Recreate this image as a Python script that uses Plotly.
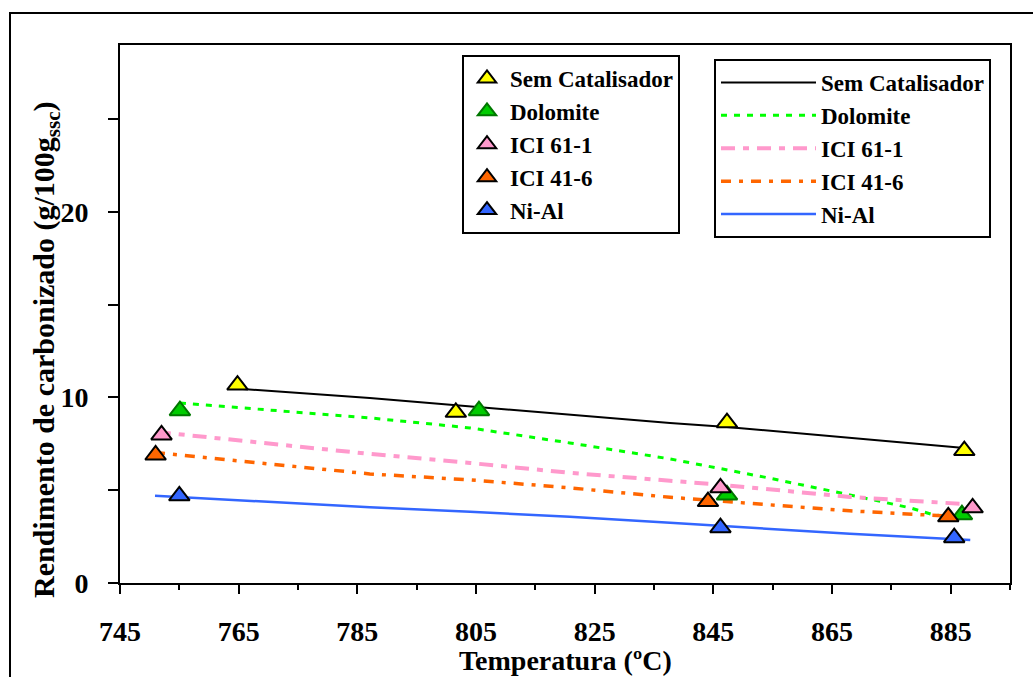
import plotly.graph_objects as go

# ---- data ----
names = ["Sem Catalisador", "Dolomite", "ICI 61-1", "ICI 41-6", "Ni-Al"]

# measured points (markers)
sem_T = [764.8, 801.6, 847.3, 887.3]
sem_y = [10.67, 9.20, 8.64, 7.14]
dol_T = [755.1, 805.5, 847.3, 886.9]
dol_y = [9.29, 9.29, 4.75, 3.68]
i61_T = [752.0, 846.2, 888.7]
i61_y = [7.98, 5.13, 4.05]
i41_T = [751.0, 844.1, 884.6]
i41_y = [6.90, 4.39, 3.57]
nial_T = [755.0, 846.2, 885.6]
nial_y = [4.70, 2.98, 2.44]

# fitted curves (lines)
sem_lT = [765.7, 787.1, 837.7, 847.3, 887.3]
sem_ly = [10.46, 9.97, 8.63, 8.41, 7.28]
dol_lT = [755.1, 787.1, 804.0, 820.8, 837.7, 846.6, 853.4, 868.0, 878.2, 882.0, 884.9]
dol_ly = [9.70, 8.90, 8.36, 7.55, 6.69, 6.15, 5.72, 4.75, 4.05, 3.68, 3.57]
i61_lT = [751.2, 787.1, 804.0, 820.8, 837.7, 846.1, 868.0, 886.6]
i61_ly = [8.14, 6.96, 6.47, 5.94, 5.51, 5.30, 4.64, 4.27]
i41_lT = [750.9, 787.1, 804.0, 820.8, 837.7, 846.1, 868.0, 886.6]
i41_ly = [7.03, 5.88, 5.56, 5.13, 4.62, 4.43, 3.89, 3.57]
nial_lT = [750.9, 787.1, 804.0, 820.8, 837.7, 846.1, 868.0, 888.3]
nial_ly = [4.70, 4.08, 3.84, 3.57, 3.25, 3.08, 2.65, 2.32]

x_ticks = [745, 765, 785, 805, 825, 845, 865, 885]
y_ticks = [0, 5, 10, 15, 20, 25]
y_ticktext = ["0", "", "10", "", "20", ""]

FONT = "Liberation Serif"

marker_T = [sem_T, dol_T, i61_T, i41_T, nial_T]
marker_y = [sem_y, dol_y, i61_y, i41_y, nial_y]
line_T = [sem_lT, dol_lT, i61_lT, i41_lT, nial_lT]
line_y = [sem_ly, dol_ly, i61_ly, i41_ly, nial_ly]

marker_fill = ["#FFFF00", "#00CC00", "#FF99CC", "#FF6600", "#3366FF"]
marker_edge = ["#000000", "#007700", "#000000", "#000000", "#000000"]
line_col = ["#000000", "#00FF00", "#FF99CC", "#FF6600", "#3366FF"]
line_w = [2, 3, 4, 3.5, 2.5]
line_dash = ["solid", "6px,7px", "14px,8px,6px,8px", "10px,8px,4px,8px", "solid"]

fig = go.Figure()

for i, n in enumerate(names):
    fig.add_trace(go.Scatter(
        x=line_T[i], y=line_y[i], mode="lines", name=n,
        line=dict(color=line_col[i], width=line_w[i], dash=line_dash[i]),
        legend="legend2", legendgroup="l" + str(i)))

for i, n in enumerate(names):
    fig.add_trace(go.Scatter(
        x=marker_T[i], y=marker_y[i], mode="markers", name=n,
        marker=dict(symbol="triangle-up", size=18, color=marker_fill[i],
                    line=dict(color=marker_edge[i], width=2)),
        legend="legend", legendgroup="m" + str(i)))

W, H = 1033, 677
L, R, T, B = 120, 23, 45, 94
pw, ph = W - L - R, H - T - B


def px(xp):
    return (xp - L) / pw


def py(yp):
    return (H - B - yp) / ph


legend_font = dict(family=FONT, size=23, color="black", weight="bold")

fig.update_layout(
    width=W, height=H,
    margin=dict(l=L, r=R, t=T, b=B),
    paper_bgcolor="white", plot_bgcolor="white",
    font=dict(family=FONT, color="black"),
    legend=dict(x=px(462), y=py(55), xanchor="left", yanchor="top",
                bordercolor="black", borderwidth=2, bgcolor="white",
                font=legend_font, tracegroupgap=0, traceorder="normal",
                itemwidth=36),
    legend2=dict(x=px(714), y=py(59), xanchor="left", yanchor="top",
                 bordercolor="black", borderwidth=2, bgcolor="white",
                 font=legend_font, tracegroupgap=0, traceorder="normal",
                 itemwidth=95),
)

fig.update_xaxes(
    range=[745, 895], tickvals=x_ticks,
    showgrid=False, zeroline=False,
    showline=True, linecolor="black", linewidth=2, mirror=True,
    ticks="outside", ticklen=9, tickwidth=2, tickcolor="black",
    minor=dict(dtick=10, tick0=745, ticks="outside", ticklen=5, tickwidth=2, tickcolor="black"),
    tickfont=dict(family=FONT, size=28, color="black", weight="bold"),
    ticklabelstandoff=13,
)
fig.update_yaxes(
    range=[0, 29], tickvals=y_ticks, ticktext=y_ticktext,
    showgrid=False, zeroline=False,
    showline=True, linecolor="black", linewidth=2, mirror=True,
    ticks="outside", ticklen=10, tickwidth=2, tickcolor="black",
    tickfont=dict(family=FONT, size=28, color="black", weight="bold"),
    ticklabelstandoff=14,
)

fig.add_annotation(
    text="Rendimento de carbonizado (g/100g<sub>ssc</sub>)",
    xref="paper", yref="paper", x=px(46), y=py(350),
    xanchor="center", yanchor="middle", textangle=-90, showarrow=False,
    font=dict(family=FONT, size=30, color="black", weight="bold"))
fig.add_annotation(
    text="Temperatura (ºC)",
    xref="paper", yref="paper", x=px(565), y=py(660),
    xanchor="center", yanchor="middle", showarrow=False,
    font=dict(family=FONT, size=28, color="black", weight="bold"))

# outer frame of the figure
fig.add_shape(type="rect", xref="paper", yref="paper",
              x0=px(10), y0=py(700), x1=px(1050), y1=py(13),
              line=dict(color="black", width=2), layer="below")

fig.write_html("out.html", config={"displayModeBar": False},
               post_script="document.body.style.margin='0px';document.body.style.overflow='hidden';")
